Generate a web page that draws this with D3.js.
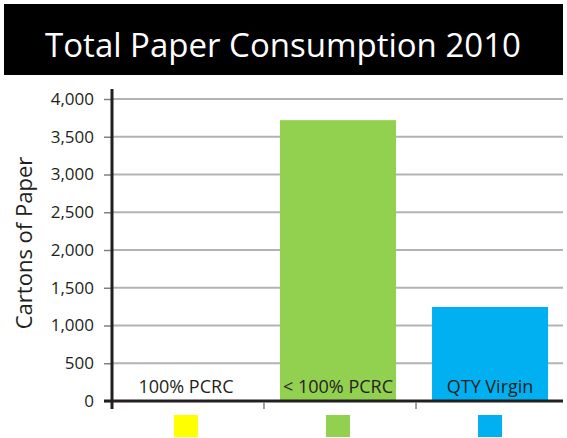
<!DOCTYPE html>
<html><head><meta charset="utf-8">
<script src="https://cdn.jsdelivr.net/npm/d3@7"></script>
<style>body{margin:0;background:#fff}svg{display:block}</style>
</head><body>
<script>
const categories = ["100% PCRC", "< 100% PCRC", "QTY Virgin"];
const values = [0, 3720, 1245];
const colors = ["#ffff00", "#92d050", "#00b0f0"];
const yTicks = [0, 500, 1000, 1500, 2000, 2500, 3000, 3500, 4000];
const title = "Total Paper Consumption 2010";
const yLabel = "Cartons of Paper";

const W = 567, H = 438;
const svg = d3.select("body").append("svg").attr("width", W).attr("height", H);
const font = "'Open Sans', sans-serif";

// title band
svg.append("rect").attr("x", 4).attr("y", 4).attr("width", 559).attr("height", 71).attr("fill", "#000");
svg.append("text").attr("x", 283).attr("y", 57).attr("text-anchor", "middle")
  .attr("fill", "#fff").attr("font-family", font).attr("font-size", 33)
  .text(title);

const x0 = 112, xEnd = 568;
const y = d3.scaleLinear().domain([0, 4000]).range([401, 99]);
const x = d3.scaleBand().domain(categories).range([x0 - 2, xEnd - 2]).paddingInner(0.237).paddingOuter(0.118);

// gridlines
svg.append("g").selectAll("line").data(yTicks.filter(d => d > 0)).join("line")
  .attr("x1", x0).attr("x2", 563).attr("y1", d => y(d)).attr("y2", d => y(d))
  .attr("stroke", "#b3b3b3").attr("stroke-width", 2);

// bars
svg.append("g").selectAll("rect").data(values).join("rect")
  .attr("x", (d, i) => x(categories[i])).attr("width", x.bandwidth())
  .attr("y", d => y(d)).attr("height", d => y(0) - y(d))
  .attr("fill", (d, i) => colors[i]);

// category labels
svg.append("g").selectAll("text").data(categories).join("text")
  .attr("x", d => x(d) + x.bandwidth() / 2).attr("y", 393)
  .attr("text-anchor", "middle").attr("font-family", font).attr("font-size", 18)
  .attr("fill", "#231f20").text(d => d);

// y axis
const yAxis = d3.axisLeft(y).tickValues(yTicks).tickSize(8).tickPadding(10)
  .tickFormat(d3.format(","));
const ga = svg.append("g").attr("transform", `translate(${x0},0)`).call(yAxis);
ga.select(".domain").remove();
ga.selectAll(".tick line").attr("stroke", "#808080").attr("stroke-width", 1.5);
ga.selectAll(".tick text").attr("font-family", font).attr("font-size", 17).attr("fill", "#231f20");
svg.append("line").attr("x1", x0).attr("x2", x0).attr("y1", 89).attr("y2", 409)
  .attr("stroke", "#231f20").attr("stroke-width", 3);

// x axis
svg.append("line").attr("x1", 104).attr("x2", 563).attr("y1", 401).attr("y2", 401)
  .attr("stroke", "#231f20").attr("stroke-width", 3);
svg.append("g").selectAll("line").data(categories.slice(1)).join("line")
  .attr("x1", d => x(d) - x.step() * x.paddingInner() / 2 + 2).attr("x2", d => x(d) - x.step() * x.paddingInner() / 2 + 2)
  .attr("y1", 402).attr("y2", 409).attr("stroke", "#808080").attr("stroke-width", 1.5);

// y label
svg.append("text").attr("transform", "translate(32,243) rotate(-90)").attr("text-anchor", "middle")
  .attr("font-family", font).attr("font-size", 22).attr("fill", "#231f20").text(yLabel);

// legend squares
svg.append("g").selectAll("rect.leg").data(categories).join("rect")
  .attr("x", d => x(d) + x.bandwidth() / 2 - 12).attr("y", 415).attr("width", 24).attr("height", 22)
  .attr("fill", (d, i) => colors[i]);
</script>
</body></html>
